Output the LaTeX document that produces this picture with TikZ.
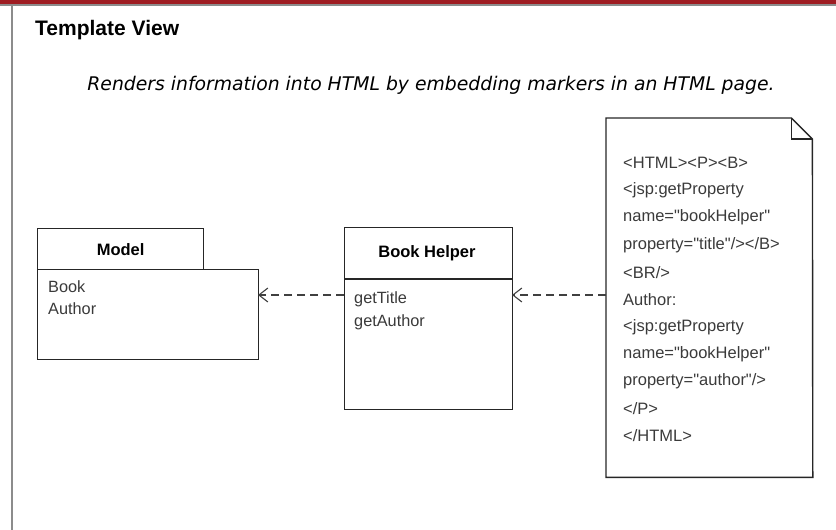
\documentclass[tikz,border=0pt]{standalone}
\usepackage{fontspec}
\setmainfont{Liberation Sans}
\newfontfamily\verdana{DejaVu Sans}
\newfontfamily\codefont{Liberation Sans}
\usetikzlibrary{arrows.meta}
\definecolor{barred}{HTML}{9E1C22}
\definecolor{inkgray}{HTML}{3A3A3A}
\begin{document}
\begin{tikzpicture}[
	x=1pt, y=-1pt,
	umlbox/.style={ draw=black!85, line width=1.3pt, inner sep=0pt, anchor=north west },
	attr/.style={ inkgray, anchor=west, inner sep=0pt, font=\fontsize{16.3}{18}\selectfont },
	boxtitle/.style={ inner sep=0pt, font=\fontsize{16.5}{18}\selectfont\bfseries },
	code/.style={ inkgray, anchor=west, inner sep=0pt, font=\codefont\fontsize{16.5}{18}\selectfont },
	dep/.style={ dashed, dash pattern=on 8pt off 5pt, line width=1.1pt, black!75, -{Straight Barb[length=9pt,width=14pt,line width=1.1pt]} }
]
\useasboundingbox (0,0) rectangle (836,530);

% page frame
\fill[barred] (0,0) rectangle (836,3.5);
\fill[black!45] (0,3.5) rectangle (836,5.5);
\fill[black!45] (10.5,5.5) rectangle (12.5,530);

% heading
\node at (35,30) (title) [anchor=west, inner sep=0pt, font=\fontsize{21}{24}\selectfont\bfseries] {Template View};
\node at (431,85) (intro) [inner sep=0pt, font=\fontsize{18.8}{21}\selectfont\verdana\itshape] {Renders information into HTML by embedding markers in an HTML page.};

% model package
\node at (37,228) (modeltab) [umlbox, minimum width=166, minimum height=41] {};
\node at (37,269) (modelbody) [umlbox, minimum width=221, minimum height=90] {};
\node at (modeltab.center) (modelname) [boxtitle] {Model};
\node at (48,287) (mbook) [attr] {Book};
\node at (48,309) (mauthor) [attr] {Author};

% book helper class
\node at (344,227) (helper) [umlbox, minimum width=168, minimum height=182] {};
\draw[black!85, line width=1.3pt] (344,279) -- (512,279);
\node at (427,253) (helpername) [boxtitle] {Book Helper};
\node at (354,299) (gettitle) [attr] {getTitle};
\node at (354,322) (getauthor) [attr] {getAuthor};

% jsp page
\node at (606,118) (page) [anchor=north west, minimum width=206.4, minimum height=359, inner sep=0pt] {};
\draw[black!85, line width=1.4pt, line join=miter] (page.south west) -- (page.north west) -- ++(185.4,0) coordinate (fold)
	-- ++(21,21) coordinate (foldend) -- (page.south east) -- cycle;
\draw[black!85, line width=1.1pt] (fold) -- (fold |- foldend) -- (foldend);
\foreach \t [count=\i from 0] in {
	{<HTML><P><B>},
	{<jsp:getProperty},
	{name="bookHelper"},
	{property="title"/></B>},
	{<BR/>},
	{Author:},
	{<jsp:getProperty},
	{name="bookHelper"},
	{property="author"/>},
	{</P>},
	{</HTML>}}
	\node at (623,163+27.3*\i) (line\i) [code] {\t};

% dependencies
\coordinate (pagein) at (606,295);
\coordinate (helperin) at (512,295);
\coordinate (helperout) at (344,295);
\coordinate (modelin) at (258,295);
\draw[dep] (pagein) -- (helperin);
\draw[dep] (helperout) -- (modelin);

\end{tikzpicture}
\end{document}
